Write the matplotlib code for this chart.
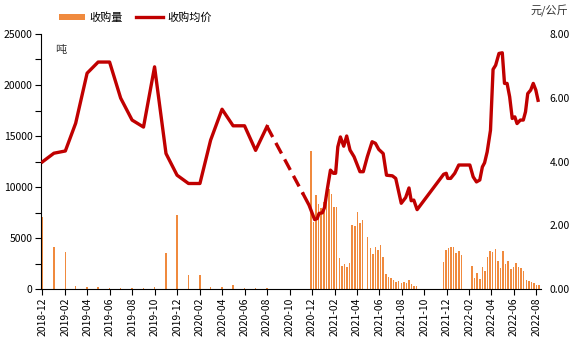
import matplotlib
matplotlib.use('Agg')
import matplotlib.pyplot as plt
import matplotlib.dates as mdates
from matplotlib.patches import Patch
from matplotlib.lines import Line2D
import pandas as pd

plt.rcParams['font.family'] = ['Noto Sans CJK SC', 'DejaVu Sans']

# ---- monthly data (2018-12 .. 2020-08) ----
monthly_dates = ['2018-12-01', '2019-01-01', '2019-02-01', '2019-03-01', '2019-04-01',
                 '2019-05-01', '2019-06-01', '2019-07-01', '2019-08-01', '2019-09-01',
                 '2019-10-01', '2019-11-01', '2019-12-01', '2020-01-01', '2020-02-01',
                 '2020-03-01', '2020-04-01', '2020-05-01', '2020-06-01', '2020-07-01',
                 '2020-08-01']
monthly_volume = [7090, 4090, 3660, 290, 160, 160, 100, 100, 100, 100,
                  160, 3560, 7290, 1370, 1370, 160, 160, 360, 100, 100, 100]
monthly_price = [3.99, 4.26, 4.33, 5.20, 6.77, 7.12, 7.12, 5.99, 5.30, 5.08,
                 6.97, 4.25, 3.57, 3.31, 3.31, 4.67, 5.64, 5.12, 5.12, 4.35, 5.10]

# ---- weekly volume ----
weekly_vol_dates_a = ['2020-11-28', '2020-12-05', '2020-12-12', '2020-12-19', '2020-12-26',
                      '2021-01-02', '2021-01-09', '2021-01-16', '2021-01-23', '2021-01-30',
                      '2021-02-06', '2021-02-13', '2021-02-20', '2021-02-27', '2021-03-06',
                      '2021-03-13', '2021-03-20', '2021-03-27', '2021-04-03', '2021-04-10',
                      '2021-04-17', '2021-05-01', '2021-05-08', '2021-05-15', '2021-05-22',
                      '2021-05-29', '2021-06-05', '2021-06-12', '2021-06-19', '2021-06-26',
                      '2021-07-03', '2021-07-10', '2021-07-17', '2021-07-24', '2021-07-31',
                      '2021-08-07', '2021-08-14', '2021-08-21', '2021-08-28', '2021-09-04',
                      '2021-09-11']
weekly_vol_a = [13560, 6600, 9220, 8330, 7910, 8560, 9050, 9770, 9310, 8010,
                8010, 3010, 2250, 2450, 2190, 2520, 6270, 6180, 7580, 6440,
                6760, 5070, 3990, 3430, 4150, 3820, 4280, 3170, 1470, 1210,
                1050, 880, 720, 810, 620, 720, 620, 900, 490, 290, 290]
weekly_vol_dates_b = ['2021-11-22', '2021-11-29', '2021-12-06', '2021-12-13', '2021-12-20',
                      '2021-12-27', '2022-01-03', '2022-01-10']
weekly_vol_b = [2680, 3820, 3990, 4090, 4090, 3560, 3750, 3360]
weekly_vol_dates_c = ['2022-02-08', '2022-02-15', '2022-02-22', '2022-03-01', '2022-03-08',
                      '2022-03-15', '2022-03-22', '2022-03-29', '2022-04-05', '2022-04-12',
                      '2022-04-19', '2022-04-26', '2022-05-03', '2022-05-10', '2022-05-17',
                      '2022-05-24', '2022-05-31', '2022-06-07', '2022-06-14', '2022-06-21',
                      '2022-06-28', '2022-07-05', '2022-07-12', '2022-07-19', '2022-07-26',
                      '2022-08-02', '2022-08-09']
weekly_vol_c = [2290, 1080, 1540, 980, 2130, 1730, 3170, 3750, 3630, 3890,
                2750, 2090, 3730, 2450, 2750, 1930, 2130, 2520, 2130, 2060,
                1760, 880, 810, 720, 560, 420, 360]

# ---- weekly price ----
weekly_price_dates = ['2020-11-07', '2020-11-23', '2020-12-08', '2020-12-15', '2020-12-20',
                      '2020-12-29', '2021-01-04', '2021-01-11', '2021-01-20', '2021-01-28',
                      '2021-02-03', '2021-02-09', '2021-02-16', '2021-02-25', '2021-03-05',
                      '2021-03-14', '2021-03-25', '2021-04-10', '2021-04-19', '2021-04-30',
                      '2021-05-13', '2021-05-22', '2021-05-31', '2021-06-12', '2021-06-21',
                      '2021-07-07', '2021-07-16', '2021-07-31', '2021-08-12', '2021-08-21',
                      '2021-08-27', '2021-09-03', '2021-09-12', '2021-11-23', '2021-11-30',
                      '2021-12-04', '2021-12-12', '2021-12-23', '2022-01-03', '2022-02-02',
                      '2022-02-11', '2022-02-20', '2022-03-01', '2022-03-08', '2022-03-14',
                      '2022-03-21', '2022-03-30', '2022-04-06', '2022-04-13', '2022-04-22',
                      '2022-05-01', '2022-05-07', '2022-05-14', '2022-05-21', '2022-05-28',
                      '2022-06-04', '2022-06-10', '2022-06-19', '2022-06-27', '2022-07-03',
                      '2022-07-09', '2022-07-17', '2022-07-24', '2022-07-31', '2022-08-06']
weekly_price = [2.98, 2.63, 2.18, 2.21, 2.37, 2.39, 2.56, 3.10, 3.73, 3.63,
                3.63, 4.46, 4.77, 4.48, 4.80, 4.36, 4.15, 3.68, 3.68, 4.15,
                4.62, 4.57, 4.38, 4.25, 3.57, 3.55, 3.47, 2.69, 2.87, 3.17,
                2.77, 2.79, 2.49, 3.60, 3.63, 3.47, 3.47, 3.63, 3.89, 3.89,
                3.52, 3.36, 3.42, 3.83, 3.96, 4.30, 4.98, 6.89, 7.02, 7.39,
                7.41, 6.45, 6.45, 6.03, 5.35, 5.40, 5.19, 5.30, 5.30, 5.56,
                6.13, 6.24, 6.45, 6.24, 5.92]

legend_labels = ['收购量', '收购均价']
left_unit = '吨'
right_unit = '元/公斤'

bar_color = '#F08A3E'
line_color = '#C00000'

fig = plt.figure(figsize=(5.76, 3.52), dpi=100)
ax = fig.add_axes([41.0 / 576, 1 - 289 / 352, 500 / 576, 255 / 352])
ax2 = ax.twinx()

bw = 4.0
for d, v in [(monthly_dates, monthly_volume), (weekly_vol_dates_a, weekly_vol_a),
             (weekly_vol_dates_b, weekly_vol_b), (weekly_vol_dates_c, weekly_vol_c)]:
    ax.bar(pd.to_datetime(d), v, width=bw, color=bar_color, linewidth=0, align='center')

md = pd.to_datetime(monthly_dates)
wd = pd.to_datetime(weekly_price_dates)
ax2.plot(md, monthly_price, color=line_color, lw=2.4)
ax2.plot([md[-1], wd[0]], [monthly_price[-1], weekly_price[0]], color=line_color,
         lw=2.4, linestyle=(0, (3.6, 2.0)))
ax2.plot(wd, weekly_price, color=line_color, lw=2.4)

ax.set_xlim(pd.Timestamp('2018-11-27'), pd.Timestamp('2022-08-14'))
ax.set_ylim(0, 25000)
ax2.set_ylim(0, 8)

ax.xaxis.set_major_locator(mdates.MonthLocator(bymonth=[2, 4, 6, 8, 10, 12]))
ax.xaxis.set_major_formatter(mdates.DateFormatter('%Y-%m'))
ax.set_yticks([0, 5000, 10000, 15000, 20000, 25000])
ax.set_yticks([2500, 7500, 12500, 17500, 22500], minor=True)
ax2.set_yticks([0, 2, 4, 6, 8])
ax2.set_yticklabels(['%.2f' % t for t in [0, 2, 4, 6, 8]])

for lbl in ax.get_xticklabels():
    lbl.set_rotation(90)
ax.tick_params(axis='x', labelsize=7.5, length=4, width=0.8, direction='out', pad=2,
               colors='black')
ax.tick_params(axis='y', which='major', labelsize=7.5, length=4, width=0.8, pad=2)
ax.tick_params(axis='y', which='minor', length=4, width=0.8)
ax2.tick_params(axis='y', labelsize=7.5, length=0, pad=6)

for s in ['top', 'right']:
    ax.spines[s].set_visible(False)
for s in ['top', 'right', 'left', 'bottom']:
    ax2.spines[s].set_visible(False)
ax.spines['left'].set_linewidth(0.8)
ax.spines['bottom'].set_linewidth(0.8)

ax.text(0.028, 0.955, left_unit, transform=ax.transAxes, fontsize=8, color='#333333',
        va='top', ha='left')
fig.text(568 / 576, 1 - 11 / 352, right_unit, fontsize=8, color='#333333',
         va='center', ha='right')

handles = [Patch(facecolor=bar_color, edgecolor='none'),
           Line2D([0], [0], color=line_color, lw=2.4)]
fig.legend(handles, legend_labels, loc='center', bbox_to_anchor=(0.235, 0.95), ncol=2,
           frameon=False, fontsize=8, handlelength=2.4, handleheight=0.5,
           columnspacing=1.2, handletextpad=0.4)

fig.savefig('out.png', dpi=100)
